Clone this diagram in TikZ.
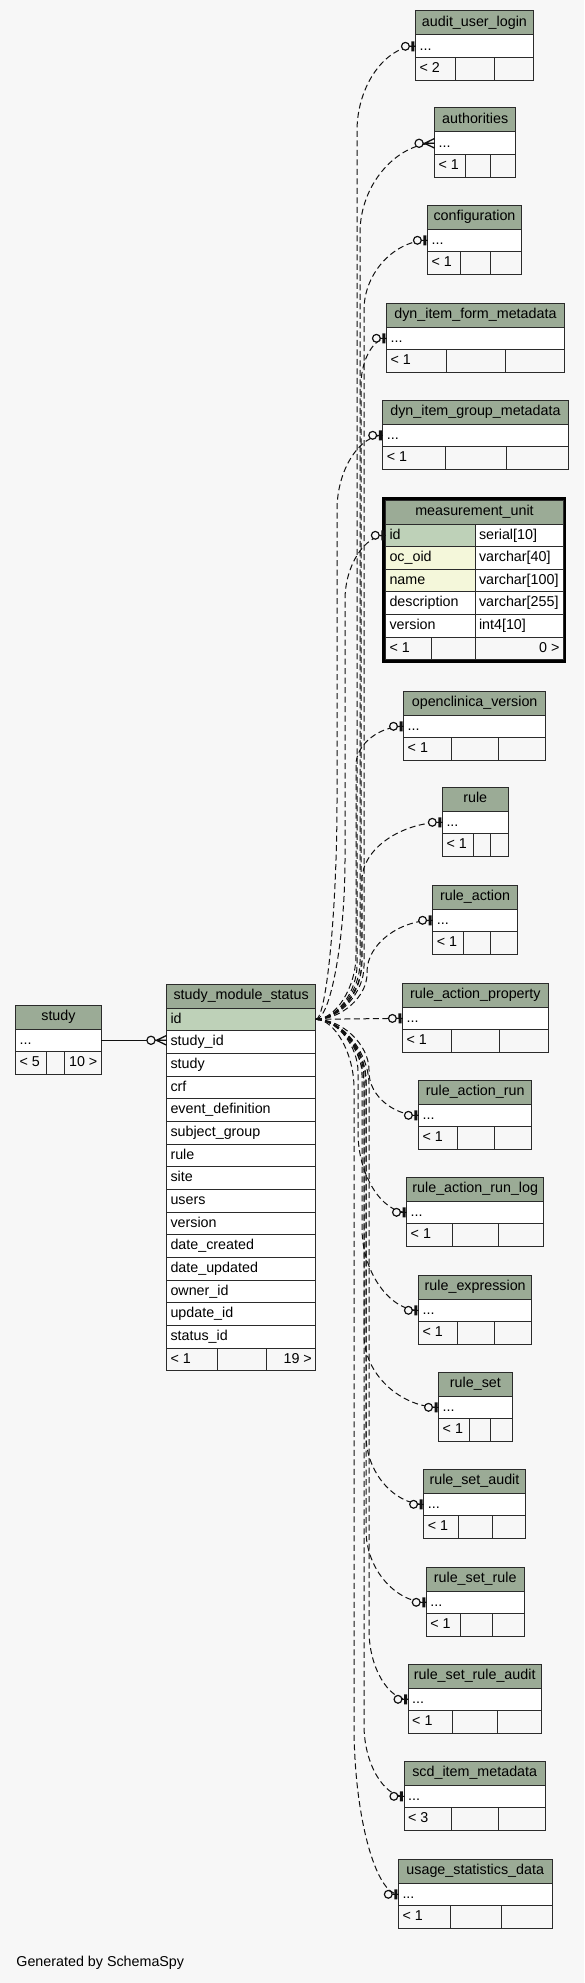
\documentclass[tikz,border=0pt]{standalone}
\usepackage{fontspec}
\setmainfont{Liberation Sans}
\usepackage{tikz}
\usetikzlibrary{calc,positioning,decorations.markings}

\definecolor{bgcol}{HTML}{F7F7F7}
\definecolor{headcol}{HTML}{9BAB96}
\definecolor{keycol}{HTML}{BED1B8}
\definecolor{idxcol}{HTML}{F4F7DA}
\definecolor{framecol}{HTML}{2B2B2B}
\definecolor{linecol}{HTML}{111111}

% end marks, drawn in the frame of the path end
\newcommand\zerooneTip{%
  \draw[solid,draw=linecol,line width=1.1pt] (-7,0) -- (0,0);
  \draw[solid,draw=linecol,line width=1.2pt,fill=bgcol] (-10.2,0) circle (3.9);
  \draw[solid,draw=linecol,line width=3pt] (-2.6,-5) -- (-2.6,5);}
\newcommand\zeromanyTip{%
  \draw[solid,draw=linecol,line width=1.2pt,fill=bgcol] (-15.5,0) circle (4.1);
  \draw[solid,draw=linecol,line width=1.3pt] (0,-4.8) -- (-10,0) -- (0,4.8) (-11.5,0) -- (0,0);}

\tikzset{
  frame/.style={draw=framecol,line width=1pt},
  txt/.style={inner sep=0pt,outer sep=0pt,text height=10.5pt,text depth=3pt},
  headcell/.style={frame,fill=headcol,txt,anchor=north west,minimum height=24pt},
  bodycell/.style={frame,fill=white,txt,inner xsep=4pt,anchor=north west,minimum height=22.6pt,align=left},
  implied/.style={draw=linecol,line width=1pt,dash pattern=on 6pt off 3.5pt},
  fk/.style={draw=linecol,line width=1.2pt},
  zeroone/.style={postaction={decorate,decoration={markings,mark=at position -0.01pt with {\zerooneTip}}}},
  zeromany/.style={postaction={decorate,decoration={markings,mark=at position -0.01pt with {\zeromanyTip}}}}
}

% name, title, left, top, right, divider, divider, footer text
\newcommand\minitable[8]{%
  \pgfmathsetmacro\tw{#5-#3}
  \pgfmathsetmacro\bw{#5-#3-8}
  \node[headcell,minimum width=\tw pt] (#1) at (#3,#4) {#2};
  \node[bodycell,text width=\bw pt] (#1-d) at (#1.south west) {...};
  \draw[frame] (#1-d.south west) rectangle (#5,#4+69.2);
  \draw[frame] (#6,#4+46.6) -- (#6,#4+69.2) (#7,#4+46.6) -- (#7,#4+69.2);
  \node[txt,anchor=west] (#1-min) at (#3+4,#4+57.9) {#8};
}

% [end mark]{target row}{trunk x}{trunk start y}{trunk end y}
\newcommand\implied[5][zeroone]{%
  \coordinate (ka) at (#3,#4);
  \coordinate (kb) at (#3,#5);
  \draw[implied,#1] (sms-id.east)
    .. controls ($(sms-id.east)!.5!(ka |- sms-id.east)$) and ($(ka)!.5!(ka |- sms-id.east)$) .. (ka)
    -- (kb)
    .. controls ($(kb)!.55!(kb |- #2.west)$) and ($(#2.west)!.5!(kb |- #2.west)$) .. (#2.west);
}

\begin{document}
\begin{tikzpicture}[x=1pt,y=-1pt,font=\fontsize{14.3pt}{16pt}\selectfont]
\fill[bgcol] (0,0) rectangle (584,1983);

% small tables on the right
\foreach \tname/\thead/\xl/\yt/\xr/\da/\db/\low in {
  aul/audit\_user\_login/415.6/11/533.3/455.5/494.6/< 2,
  auth/authorities/434.6/108/515.8/465.2/490.9/< 1,
  conf/configuration/427.6/205/521.4/460.3/490.9/< 1,
  difm/dyn\_item\_form\_metadata/386.6/303/564.2/446.2/505/< 1,
  digm/dyn\_item\_group\_metadata/382.9/400/568/445/506.5/< 1,
  ocv/openclinica\_version/403.7/691/545.6/451.8/498.3/< 1,
  rule/rule/442.5/787/508/473/490.9/< 1,
  ra/rule\_action/432.8/885/517.3/463.3/490.9/< 1,
  rap/rule\_action\_property/402.6/983/548.2/451.8/499.8/< 1,
  rar/rule\_action\_run/418.6/1080/531.8/457/494.6/< 1,
  rarl/rule\_action\_run\_log/406.7/1177/543.8/452.9/498.3/< 1,
  rex/rule\_expression/418.6/1275/531.8/457/494.6/< 1,
  rs/rule\_set/438.7/1372/512.1/469.3/490.9/< 1,
  rsa/rule\_set\_audit/423.8/1469/525.1/458.8/492/< 1,
  rsr/rule\_set\_rule/426.4/1567/524/460/492/< 1,
  rsra/rule\_set\_rule\_audit/408.2/1664/541.2/452.9/497.2/< 1,
  scd/scd\_item\_metadata/404.1/1761/545.3/451.8/498.3/< 3,
  usd/usage\_statistics\_data/398.5/1859/552/450.7/501.3/< 1}
  \minitable{\tname}{\thead}{\xl}{\yt}{\xr}{\da}{\db}{\low};

% measurement_unit, the focused table
\draw[line width=2.7pt,black] (383.7,498.7) rectangle (564.5,661.3);
\node[headcell,minimum width=178pt,alias=mu-0] (mu) at (385.5,500) {measurement\_unit};
\foreach \col/\type/\shade [count=\i, remember=\i as \j (initially 0)] in {
  id/serial[10]/keycol, oc\_oid/varchar[40]/idxcol, name/varchar[100]/idxcol,
  description/varchar[255]/white, version/int4[10]/white}
{
  \node[bodycell,fill=\shade,text width=81.5pt] (mu-\i) at (mu-\j.south west) {\col};
  \node[bodycell,text width=80.5pt] (mu-\i-t) at (mu-\i.north east) {\type};
}
\draw[frame] (mu-5.south west) rectangle (563.5,659.6);
\draw[frame] (431,637) -- (431,659.6) (475,637) -- (475,659.6);
\node[txt,anchor=west] (mu-min) at (389.5,648.3) {< 1};
\node[txt,anchor=east] (mu-max) at (559.5,648.3) {0 >};

% study_module_status
\node[headcell,minimum width=149.3pt] (sms) at (166.5,984) {study\_module\_status};
\node[bodycell,fill=keycol,text width=141.3pt,minimum height=22.67pt] (sms-id) at (sms.south west) {id};
\foreach \col [count=\i, remember=\i as \j (initially id)] in {study\_id, study, crf,
  event\_definition, subject\_group, rule, site, users, version, date\_created,
  date\_updated, owner\_id, update\_id, status\_id}
  \node[bodycell,text width=141.3pt,minimum height=22.67pt] (sms-\i) at (sms-\j.south west) {\col};
\draw[frame] (sms-14.south west) rectangle ++(149.3,22.67);
\draw[frame] (217.1,1348) -- ++(0,22.67) (266.7,1348) -- ++(0,22.67);
\node[txt,anchor=west] (sms-min) at (170.5,1359.5) {< 1};
\node[txt,anchor=east] (sms-max) at (311.8,1359.5) {19 >};

% study
\minitable{study}{study}{15.6}{1005}{101.3}{46.9}{64.1}{< 5}
\node[txt,anchor=east] (study-max) at (97.3,1062.9) {10 >};

% relationships
\draw[fk,zeromany] (study-d.east) -- (study-d.east -| sms-1.west);

\implied{aul-d}{357}{965}{131}
\implied[zeromany]{auth-d}{360}{962}{233}
\implied{conf-d}{364}{966}{310}
\implied{difm-d}{361}{968}{385}
\implied{digm-d}{337}{800}{510}
\implied{mu-1}{345}{860}{600}
\implied{ocv-d}{356}{955}{765}
\implied{rule-d}{362}{962}{880}
\implied{ra-d}{367}{974}{972}
\draw[implied,zeroone] (sms-id.east) -- (rap-d.west);
\implied{rar-d}{369}{1070}{1072}
\implied{rarl-d}{358}{1072}{1132}
\implied{rex-d}{362}{1075}{1228}
\implied{rs-d}{364}{1078}{1335}
\implied{rsa-d}{366}{1080}{1435}
\implied{rsr-d}{366}{1083}{1530}
\implied{rsra-d}{369}{1085}{1630}
\implied{scd-d}{364}{1085}{1725}
\implied{usd-d}{354}{1088}{1725}

\node[txt,anchor=west] (credit) at (16.4,1963) {Generated by SchemaSpy};
\end{tikzpicture}
\end{document}
